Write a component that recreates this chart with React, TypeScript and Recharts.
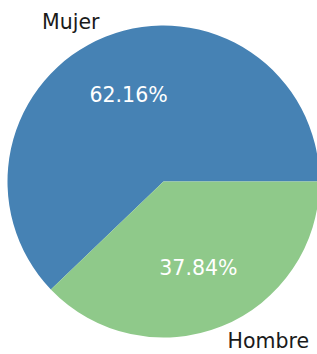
import React from "react";
import { PieChart, Pie, Cell } from "recharts";

const categories = ["Mujer", "Hombre"];
const values = [62.16, 37.84];
const colors = ["#4682b4", "#8fc98a"];

const data = categories.map((name, i) => ({ name, value: values[i] }));

const RADIAN = Math.PI / 180;

const renderLabel = (props: any) => {
  const { cx, cy, midAngle, outerRadius, name, value, index } = props;
  const cos = Math.cos(-midAngle * RADIAN);
  const sin = Math.sin(-midAngle * RADIAN);
  const lx = cx + outerRadius * 1.1 * cos;
  const ly = cy + outerRadius * 1.1 * sin;
  const px = cx + outerRadius * 0.6 * cos;
  const py = cy + outerRadius * 0.6 * sin;
  return (
    <g key={`lbl-${index}`}>
      <text
        x={lx}
        y={ly}
        textAnchor={cos > 0 ? "start" : "end"}
        dominantBaseline="central"
        fill="#1a1a1a"
        fontFamily="DejaVu Sans"
        fontSize={20.5}
      >
        {name}
      </text>
      <text
        x={px}
        y={py}
        textAnchor="middle"
        dominantBaseline="central"
        fill="#ffffff"
        fontFamily="DejaVu Sans"
        fontSize={20.5}
      >
        {`${value.toFixed(2)}%`}
      </text>
    </g>
  );
};

export default function App() {
  return (
    <div style={{ position: "absolute", left: 0, top: 0, width: 317, height: 354, background: "#fff" }}>
      <PieChart width={317} height={354} margin={{ top: 0, right: 0, bottom: 0, left: 0 }}>
        <Pie
          data={data}
          dataKey="value"
          nameKey="name"
          cx={163.5}
          cy={181.5}
          outerRadius={156}
          startAngle={0}
          endAngle={360}
          stroke="none"
          labelLine={false}
          label={renderLabel}
          isAnimationActive={false}
        >
          {data.map((d, i) => (
            <Cell key={d.name} fill={colors[i]} />
          ))}
        </Pie>
      </PieChart>
    </div>
  );
}
